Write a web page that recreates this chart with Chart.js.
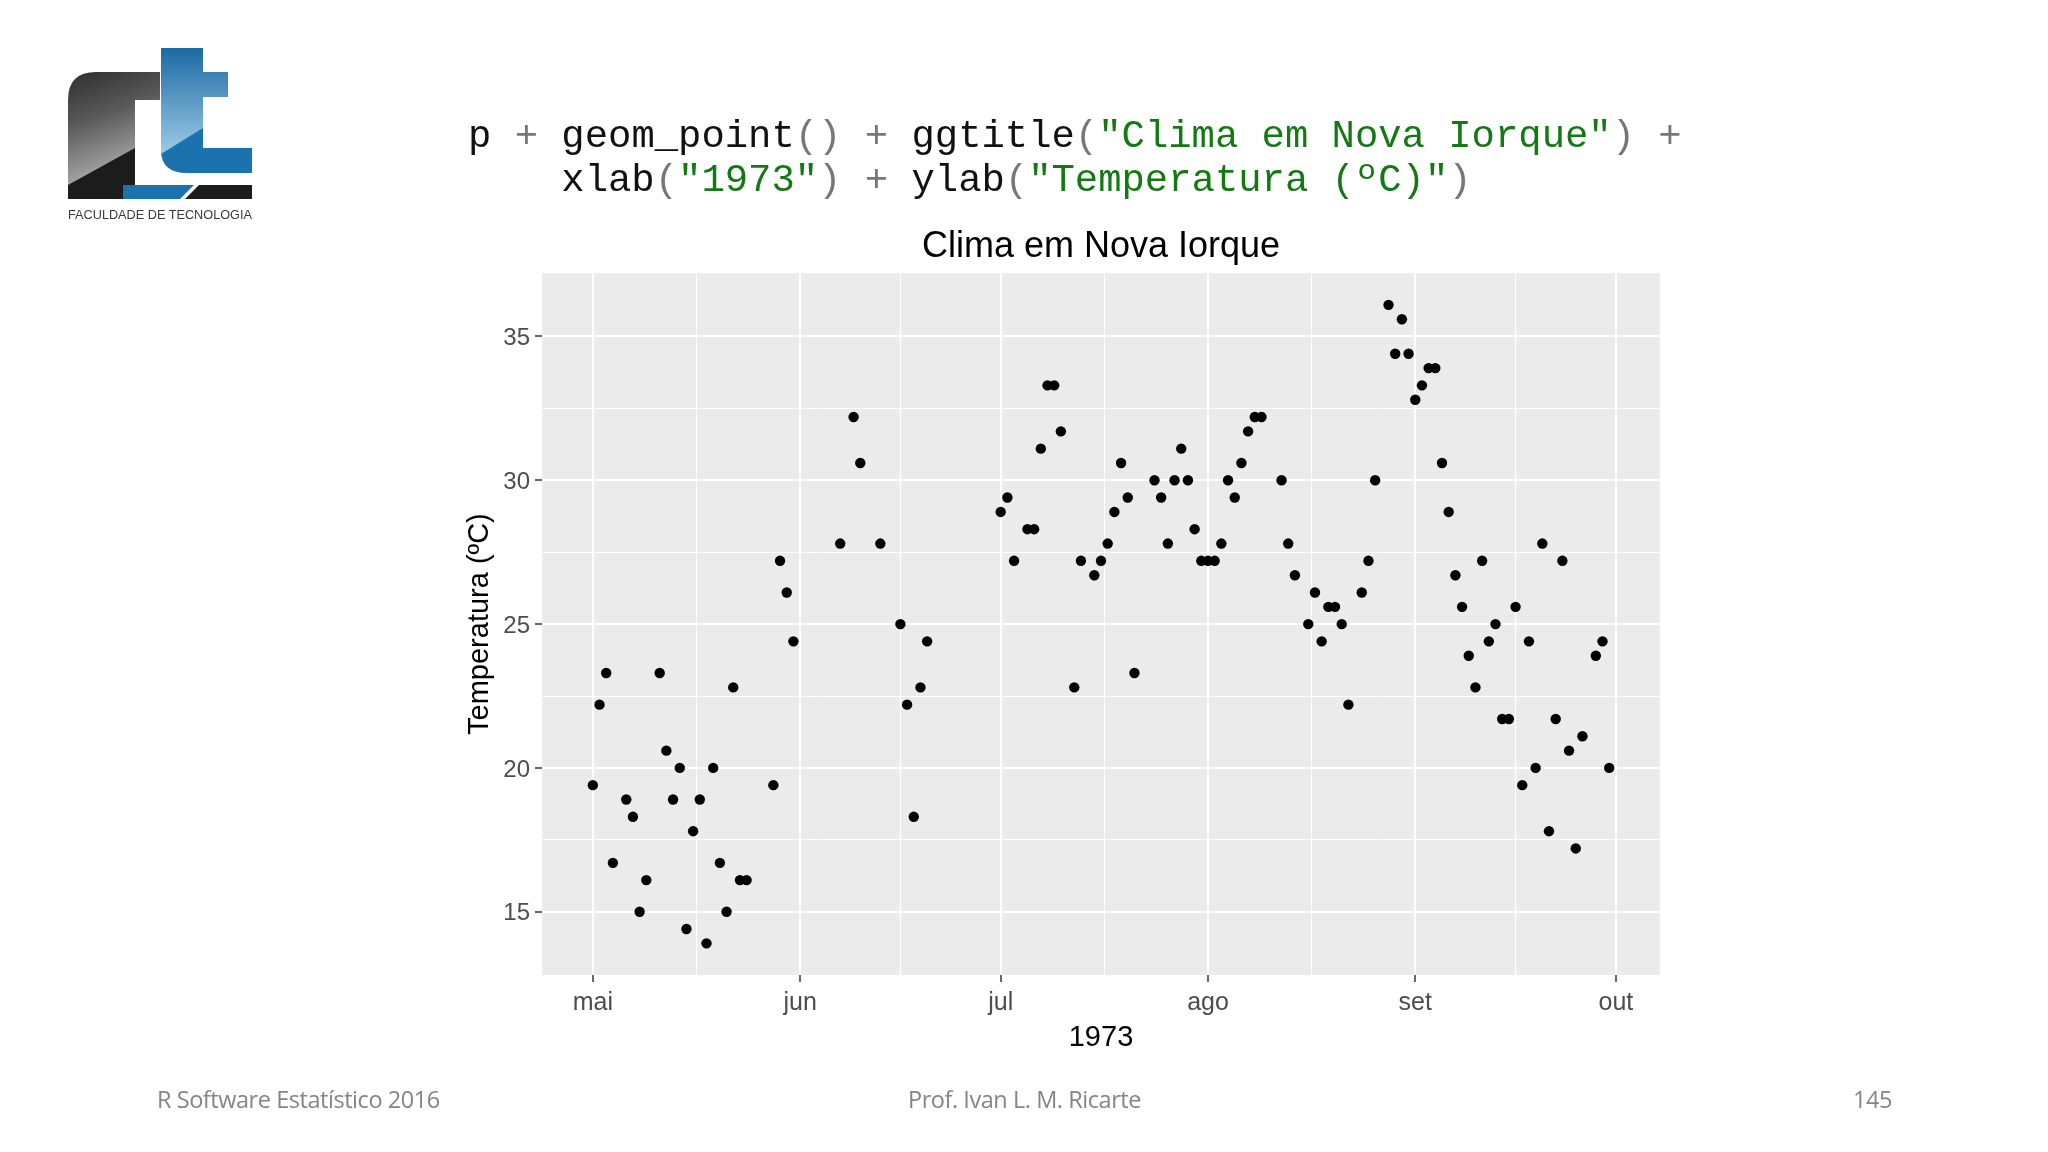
<!DOCTYPE html>
<html>
<head>
<meta charset="utf-8">
<title>Clima em Nova Iorque</title>
<script src="https://cdn.jsdelivr.net/npm/chart.js@4/dist/chart.umd.min.js"></script>
<style>
  html, body { margin: 0; padding: 0; background: #fff; }
  #slide { position: relative; width: 2048px; height: 1152px; overflow: hidden; background: #fff; }
  #myChart { position: absolute; left: 0; top: 0; }
  #logo { position: absolute; left: 0; top: 0; }
  .code {
    position: absolute; left: 468px; top: 115px; margin: 0;
    font-family: "Liberation Mono", "DejaVu Sans Mono", monospace;
    font-size: 38.9px; line-height: 44px; color: #111; white-space: pre;
  }
  .code .op { color: #777; }
  .code .str { color: #137a13; }
  .foot {
    position: absolute; top: 1083px; font-family: "Open Sans", "Liberation Sans", sans-serif;
    font-size: 23.5px; color: #858585; letter-spacing: -0.45px; white-space: nowrap;
  }
</style>
</head>
<body>
<div id="slide">
  <canvas id="myChart" width="2048" height="1152"></canvas>

  <svg id="logo" width="300" height="240" viewBox="0 0 300 240">
    <defs>
      <linearGradient id="fGrad" x1="0" y1="0" x2="0.3" y2="1">
        <stop offset="0" stop-color="#2e2e2e"/>
        <stop offset="0.45" stop-color="#5a5a5a"/>
        <stop offset="1" stop-color="#b0b0b0"/>
      </linearGradient>
      <linearGradient id="tGrad" x1="0" y1="0" x2="0" y2="1">
        <stop offset="0" stop-color="#1b6aa3"/>
        <stop offset="1" stop-color="#b5dcf2"/>
      </linearGradient>
    </defs>
    <!-- f -->
    <path d="M68,185 L68,100 Q68,72 96,72 L160,72 L160,100 L135,100 L135,185 Z" fill="url(#fGrad)"/>
    <path d="M68,185 L135,148 L135,185 Z" fill="#1c1c1c"/>
    <rect x="68" y="185" width="55" height="14" fill="#1c1c1c"/>
    <!-- t -->
    <path d="M161,48 L203,48 L203,72 L228,72 L228,97 L203,97 L203,148 L252,148 L252,173 L187,173 Q161,173 161,147 Z" fill="url(#tGrad)"/>
    <path d="M161,154 L203,128 L203,148 L252,148 L252,173 L187,173 Q161,173 161,150 Z" fill="#1a72ae"/>
    <!-- barras de base -->
    <path d="M123,185 L194,185 L180,199 L123,199 Z" fill="#1a72ae"/>
    <path d="M199,185 L252,185 L252,199 L185,199 Z" fill="#1c1c1c"/>
    <text x="68" y="219" textLength="184" lengthAdjust="spacingAndGlyphs"
          font-family="Liberation Sans, Arial, sans-serif" font-size="13.5" fill="#3a3a3a">FACULDADE DE TECNOLOGIA</text>
  </svg>

  <pre class="code">p <span class="op">+</span> geom_point<span class="op">()</span> <span class="op">+</span> ggtitle<span class="op">(</span><span class="str">"Clima em Nova Iorque"</span><span class="op">)</span> <span class="op">+</span>
    xlab<span class="op">(</span><span class="str">"1973"</span><span class="op">)</span> <span class="op">+</span> ylab<span class="op">(</span><span class="str">"Temperatura (ºC)"</span><span class="op">)</span></pre>

  <div class="foot" style="left:157px">R Software Estatístico 2016</div>
  <div class="foot" style="left:908px">Prof. Ivan L. M. Ricarte</div>
  <div class="foot" style="left:1853px">145</div>
</div>

<script>
/* airquality (Nova Iorque, 1973) - temperatura em ºC, dias com Ozone disponivel */

var inicio = '1973-05-01';

var dias = [
  '1973-05-01', '1973-05-02', '1973-05-03', '1973-05-04', '1973-05-06', '1973-05-07',
  '1973-05-08', '1973-05-09', '1973-05-11', '1973-05-12', '1973-05-13', '1973-05-14',
  '1973-05-15', '1973-05-16', '1973-05-17', '1973-05-18', '1973-05-19', '1973-05-20',
  '1973-05-21', '1973-05-22', '1973-05-23', '1973-05-24', '1973-05-28', '1973-05-29',
  '1973-05-30', '1973-05-31',
  '1973-06-07', '1973-06-09', '1973-06-10', '1973-06-13', '1973-06-16', '1973-06-17',
  '1973-06-18', '1973-06-19', '1973-06-20',
  '1973-07-01', '1973-07-02', '1973-07-03', '1973-07-05', '1973-07-06', '1973-07-07',
  '1973-07-08', '1973-07-09', '1973-07-10', '1973-07-12', '1973-07-13', '1973-07-15',
  '1973-07-16', '1973-07-17', '1973-07-18', '1973-07-19', '1973-07-20', '1973-07-21',
  '1973-07-24', '1973-07-25', '1973-07-26', '1973-07-27', '1973-07-28', '1973-07-29',
  '1973-07-30', '1973-07-31',
  '1973-08-01', '1973-08-02', '1973-08-03', '1973-08-04', '1973-08-05', '1973-08-06',
  '1973-08-07', '1973-08-08', '1973-08-09', '1973-08-12', '1973-08-13', '1973-08-14',
  '1973-08-16', '1973-08-17', '1973-08-18', '1973-08-19', '1973-08-20', '1973-08-21',
  '1973-08-22', '1973-08-24', '1973-08-25', '1973-08-26', '1973-08-28', '1973-08-29',
  '1973-08-30', '1973-08-31',
  '1973-09-01', '1973-09-02', '1973-09-03', '1973-09-04', '1973-09-05', '1973-09-06',
  '1973-09-07', '1973-09-08', '1973-09-09', '1973-09-10', '1973-09-11', '1973-09-12',
  '1973-09-13', '1973-09-14', '1973-09-15', '1973-09-16', '1973-09-17', '1973-09-18',
  '1973-09-19', '1973-09-20', '1973-09-21', '1973-09-22', '1973-09-23', '1973-09-24',
  '1973-09-25', '1973-09-26', '1973-09-28', '1973-09-29', '1973-09-30',
];

var tempC = [
  19.4, 22.2, 23.3, 16.7, 18.9, 18.3,
  15.0, 16.1, 23.3, 20.6, 18.9, 20.0,
  14.4, 17.8, 18.9, 13.9, 20.0, 16.7,
  15.0, 22.8, 16.1, 16.1, 19.4, 27.2,
  26.1, 24.4,
  27.8, 32.2, 30.6, 27.8, 25.0, 22.2,
  18.3, 22.8, 24.4,
  28.9, 29.4, 27.2, 28.3, 28.3, 31.1,
  33.3, 33.3, 31.7, 22.8, 27.2, 26.7,
  27.2, 27.8, 28.9, 30.6, 29.4, 23.3,
  30.0, 29.4, 27.8, 30.0, 31.1, 30.0,
  28.3, 27.2,
  27.2, 27.2, 27.8, 30.0, 29.4, 30.6,
  31.7, 32.2, 32.2, 30.0, 27.8, 26.7,
  25.0, 26.1, 24.4, 25.6, 25.6, 25.0,
  22.2, 26.1, 27.2, 30.0, 36.1, 34.4,
  35.6, 34.4,
  32.8, 33.3, 33.9, 33.9, 30.6, 28.9,
  26.7, 25.6, 23.9, 22.8, 27.2, 24.4,
  25.0, 21.7, 21.7, 25.6, 19.4, 24.4,
  20.0, 27.8, 17.8, 21.7, 27.2, 20.6,
  17.2, 21.1, 23.9, 24.4, 20.0,
];

var mesesDatas = ['1973-05-01', '1973-06-01', '1973-07-01', '1973-08-01', '1973-09-01', '1973-10-01'];
var mesesRotulos = ['mai', 'jun', 'jul', 'ago', 'set', 'out'];
var yTicks = [15, 20, 25, 30, 35];

function diaDoAno(d) {
  return (Date.parse(d) - Date.parse(inicio)) / 86400000;
}

var xMajor = mesesDatas.map(diaDoAno);
var xTicks = [];
xMajor.forEach(function (v, i) {
  xTicks.push(v);
  if (i < xMajor.length - 1) xTicks.push((v + xMajor[i + 1]) / 2);
});
var yTodos = [];
yTicks.forEach(function (v, i) {
  yTodos.push(v);
  if (i < yTicks.length - 1) yTodos.push((v + yTicks[i + 1]) / 2);
});

var pontos = dias.map(function (d, i) {
  return { x: diaDoAno(d), y: tempC[i] };
});

/* fundo cinza do painel (estilo ggplot) */
var painel = {
  id: 'painel',
  beforeDraw: function (chart) {
    var a = chart.chartArea;
    var ctx = chart.ctx;
    ctx.save();
    ctx.fillStyle = '#EBEBEB';
    ctx.fillRect(a.left, a.top, a.right - a.left, a.bottom - a.top);
    ctx.restore();
  },
};

var ctx = document.getElementById('myChart');

var myChart = new Chart(ctx, {
  type: 'scatter',
  data: {
    datasets: [
      {
        label: 'Temperatura',
        data: pontos,
        backgroundColor: '#000',
        borderColor: '#000',
        borderWidth: 0,
        pointRadius: 5.2,
        pointHoverRadius: 5.2,
      },
    ],
  },
  options: {
    responsive: false,
    animation: false,
    events: [],
    layout: {
      padding: { left: 442, right: 388, top: 225, bottom: 92 },
    },
    plugins: {
      legend: { display: false },
      tooltip: { enabled: false },
      title: {
        display: true,
        text: 'Clima em Nova Iorque',
        fullSize: false,
        color: '#000',
        font: { family: 'Liberation Sans', size: 36, weight: 'normal' },
        padding: { top: 0, bottom: 5 },
      },
    },
    scales: {
      x: {
        type: 'linear',
        min: -7.6,
        max: 159.6,
        afterBuildTicks: function (scale) {
          scale.ticks = xTicks.map(function (v) { return { value: v }; });
        },
        afterFit: function (scale) {
          scale.height = 85;
        },
        border: { display: false },
        grid: {
          color: '#FFFFFF',
          lineWidth: function (c) { return xMajor.indexOf(c.tick.value) >= 0 ? 2 : 1; },
          tickColor: function (c) { return xMajor.indexOf(c.tick.value) >= 0 ? '#333333' : 'rgba(0,0,0,0)'; },
          tickLength: 7,
          tickWidth: 1.5,
        },
        ticks: {
          autoSkip: false,
          maxRotation: 0,
          minRotation: 0,
          padding: 6,
          color: '#4D4D4D',
          font: { family: 'Liberation Sans', size: 25 },
          callback: function (value) {
            var i = xMajor.indexOf(value);
            return i >= 0 ? mesesRotulos[i] : '';
          },
        },
        title: {
          display: true,
          text: '1973',
          color: '#000',
          font: { family: 'Liberation Sans', size: 29 },
          padding: { top: 0, bottom: 5 },
        },
      },
      y: {
        min: 12.8,
        max: 37.2,
        afterBuildTicks: function (scale) {
          scale.ticks = yTodos.map(function (v) { return { value: v }; });
        },
        afterFit: function (scale) {
          scale.width = 100;
        },
        border: { display: false },
        grid: {
          color: '#FFFFFF',
          lineWidth: function (c) { return yTicks.indexOf(c.tick.value) >= 0 ? 2 : 1; },
          tickColor: function (c) { return yTicks.indexOf(c.tick.value) >= 0 ? '#333333' : 'rgba(0,0,0,0)'; },
          tickLength: 7,
          tickWidth: 1.5,
        },
        ticks: {
          autoSkip: false,
          padding: 5,
          labelOffset: 2,
          color: '#4D4D4D',
          font: { family: 'Liberation Sans', size: 24 },
          callback: function (value) {
            return yTicks.indexOf(value) >= 0 ? String(value) : '';
          },
        },
        title: {
          display: true,
          text: 'Temperatura (ºC)',
          color: '#000',
          font: { family: 'Liberation Sans', size: 29 },
          padding: { top: 21, bottom: 0 },
        },
      },
    },
  },
  plugins: [painel],
});
</script>
</body>
</html>
